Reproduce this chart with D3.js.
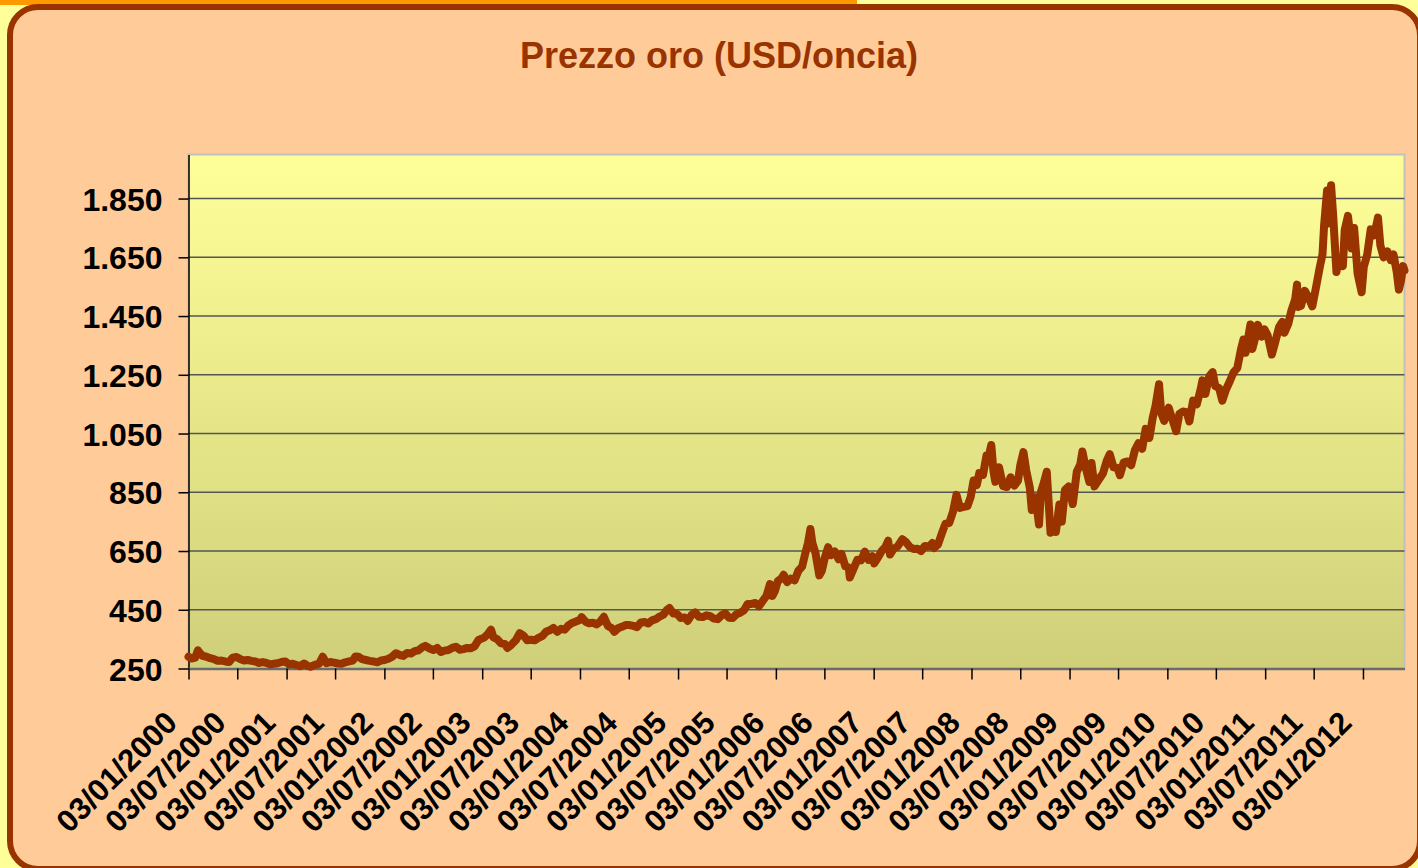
<!DOCTYPE html>
<html>
<head>
<meta charset="utf-8">
<script src="https://d3js.org/d3.v7.min.js"></script>
<style>
  body { margin: 0; background: #FFFF99; }
  svg { display: block; }
</style>
</head>
<body>
<div id="chart"></div>
<script>

var title = "Prezzo oro (USD/oncia)";

var yTicks = [250, 450, 650, 850, 1050, 1250, 1450, 1650, 1850];

var xTickLabels = ["03/01/2000", "03/07/2000", "03/01/2001", "03/07/2001", "03/01/2002", "03/07/2002",
  "03/01/2003", "03/07/2003", "03/01/2004", "03/07/2004", "03/01/2005", "03/07/2005",
  "03/01/2006", "03/07/2006", "03/01/2007", "03/07/2007", "03/01/2008", "03/07/2008",
  "03/01/2009", "03/07/2009", "03/01/2010", "03/07/2010", "03/01/2011", "03/07/2011", "03/01/2012"];

var dates = [
  "2000-01-03","2000-01-14","2000-01-28","2000-02-07","2000-02-14","2000-02-25","2000-03-10","2000-03-24","2000-04-07","2000-04-21","2000-05-05","2000-05-19","2000-06-02","2000-06-16","2000-06-30","2000-07-14","2000-07-28","2000-08-11","2000-08-25","2000-09-08","2000-09-22","2000-10-06","2000-10-20","2000-11-03","2000-11-17","2000-12-01","2000-12-15","2000-12-29",
  "2001-01-12","2001-01-26","2001-02-09","2001-02-23","2001-03-09","2001-03-23","2001-04-02","2001-04-20","2001-05-04","2001-05-18","2001-06-01","2001-06-15","2001-06-29","2001-07-13","2001-07-27","2001-08-10","2001-08-24","2001-09-07","2001-09-17","2001-09-28","2001-10-12","2001-10-26","2001-11-09","2001-11-23","2001-12-07","2001-12-21",
  "2002-01-04","2002-01-18","2002-02-01","2002-02-15","2002-03-01","2002-03-15","2002-03-29","2002-04-12","2002-04-26","2002-05-10","2002-05-24","2002-06-05","2002-06-21","2002-07-05","2002-07-19","2002-08-02","2002-08-16","2002-08-30","2002-09-13","2002-09-27","2002-10-11","2002-10-25","2002-11-08","2002-11-22","2002-12-06","2002-12-20",
  "2003-01-10","2003-01-24","2003-02-05","2003-02-14","2003-02-28","2003-03-14","2003-03-28","2003-04-07","2003-04-21","2003-05-09","2003-05-23","2003-06-06","2003-06-20","2003-07-04","2003-07-18","2003-08-01","2003-08-15","2003-08-29","2003-09-12","2003-09-26","2003-10-10","2003-10-24","2003-11-07","2003-11-21","2003-12-05","2003-12-19",
  "2004-01-02","2004-01-09","2004-01-23","2004-02-06","2004-02-20","2004-03-05","2004-03-19","2004-04-01","2004-04-16","2004-04-30","2004-05-10","2004-05-24","2004-06-07","2004-06-21","2004-07-06","2004-07-20","2004-08-03","2004-08-17","2004-08-31","2004-09-14","2004-09-28","2004-10-12","2004-10-26","2004-11-09","2004-11-23","2004-12-02","2004-12-16","2004-12-30",
  "2005-01-13","2005-01-27","2005-02-08","2005-02-22","2005-03-08","2005-03-22","2005-04-05","2005-04-19","2005-05-03","2005-05-17","2005-05-31","2005-06-14","2005-06-28","2005-07-12","2005-07-26","2005-08-09","2005-08-23","2005-09-06","2005-09-20","2005-10-04","2005-10-18","2005-11-01","2005-11-15","2005-11-29","2005-12-12","2005-12-21","2005-12-30",
  "2006-01-10","2006-01-24","2006-02-01","2006-02-14","2006-02-28","2006-03-14","2006-03-28","2006-04-11","2006-04-21","2006-05-03","2006-05-12","2006-05-19","2006-05-31","2006-06-14","2006-06-23","2006-07-05","2006-07-17","2006-07-28","2006-08-11","2006-08-25","2006-09-05","2006-09-19","2006-10-02","2006-10-06","2006-10-20","2006-11-03","2006-11-17","2006-12-01","2006-12-15","2006-12-29",
  "2007-01-05","2007-01-19","2007-02-02","2007-02-16","2007-02-26","2007-03-05","2007-03-19","2007-04-02","2007-04-20","2007-05-04","2007-05-18","2007-06-01","2007-06-15","2007-06-29","2007-07-13","2007-07-27","2007-08-10","2007-08-16","2007-08-31","2007-09-14","2007-09-28","2007-10-12","2007-10-26","2007-11-08","2007-11-21","2007-12-05","2007-12-19","2007-12-31",
  "2008-01-11","2008-01-23","2008-02-01","2008-02-15","2008-02-28","2008-03-07","2008-03-17","2008-03-25","2008-04-01","2008-04-15","2008-04-30","2008-05-14","2008-05-28","2008-06-11","2008-06-25","2008-07-03","2008-07-15","2008-07-25","2008-08-08","2008-08-15","2008-08-29","2008-09-11","2008-09-18","2008-09-30","2008-10-10","2008-10-24","2008-11-04","2008-11-13","2008-11-26","2008-12-05","2008-12-17","2008-12-31",
  "2009-01-15","2009-01-30","2009-02-12","2009-02-20","2009-03-05","2009-03-18","2009-03-26","2009-04-06","2009-04-20","2009-05-08","2009-05-22","2009-06-02","2009-06-16","2009-07-01","2009-07-10","2009-07-24","2009-08-07","2009-08-21","2009-09-04","2009-09-17","2009-10-01","2009-10-14","2009-10-28","2009-11-09","2009-11-20","2009-12-03","2009-12-11","2009-12-22",
  "2010-01-08","2010-01-21","2010-02-05","2010-02-17","2010-03-02","2010-03-16","2010-03-26","2010-04-09","2010-04-23","2010-05-07","2010-05-14","2010-05-25","2010-06-08","2010-06-21","2010-07-01","2010-07-15","2010-07-27","2010-08-10","2010-08-24","2010-09-07","2010-09-21","2010-10-05","2010-10-14","2010-10-22","2010-11-09","2010-11-16","2010-11-30","2010-12-07","2010-12-21","2010-12-31",
  "2011-01-12","2011-01-28","2011-02-10","2011-02-24","2011-03-08","2011-03-16","2011-03-30","2011-04-11","2011-04-25","2011-05-02","2011-05-05","2011-05-17","2011-05-31","2011-06-13","2011-06-28","2011-07-11","2011-07-26","2011-08-05","2011-08-11","2011-08-22","2011-08-26","2011-09-06","2011-09-14","2011-09-26","2011-10-04","2011-10-20","2011-10-27","2011-11-08","2011-11-22","2011-12-01","2011-12-14","2011-12-29",
  "2012-01-06","2012-01-19","2012-02-01","2012-02-14","2012-02-28","2012-03-08","2012-03-20","2012-04-03","2012-04-16","2012-04-26","2012-05-08","2012-05-16","2012-05-24","2012-06-01","2012-06-06"
];

var prices = [
  290,284,287,312,303,293,290,285,282,276,277,274,272,287,289,282,277,279,276,274,269,272,269,264,266,268,272,274,
  264,266,262,258,267,259,256,263,266,290,268,272,270,267,266,271,274,277,291,290,282,279,276,274,271,277,
  279,283,290,302,296,293,303,301,309,312,322,327,318,313,320,306,311,313,320,324,314,316,320,319,326,347,
  355,367,382,356,350,336,334,320,330,347,370,362,346,348,346,354,360,375,380,388,375,385,382,397,405,410,
  415,425,410,404,406,400,410,426,395,388,375,387,392,398,398,395,391,407,408,403,414,418,427,433,450,456,437,436,
  422,424,412,432,441,426,425,431,428,420,418,431,438,423,422,435,440,448,470,470,473,462,480,497,537,497,513,
  547,557,569,544,556,550,583,597,635,678,725,678,643,567,581,628,663,636,648,622,640,598,594,560,590,620,618,648,620,632,
  608,628,650,664,685,638,658,665,690,680,664,657,658,650,667,665,677,660,672,709,743,745,784,841,797,800,803,834,
  890,875,915,909,975,971,1011,922,886,935,871,868,901,873,890,941,987,926,864,790,833,740,850,885,920,712,745,715,808,750,858,870,
  810,920,945,989,930,885,950,870,890,915,958,980,935,933,908,952,955,942,994,1017,998,1066,1035,1102,1145,1218,1120,1093,
  1138,1100,1058,1117,1125,1123,1091,1162,1150,1200,1231,1185,1245,1259,1211,1205,1162,1200,1228,1258,1273,1338,1370,1325,1421,1338,1386,1420,1380,1405,
  1385,1319,1363,1413,1430,1393,1423,1469,1507,1557,1481,1485,1536,1515,1483,1544,1617,1660,1760,1877,1765,1895,1790,1600,1640,1620,1744,1791,1680,1750,1594,1531,
  1617,1660,1745,1725,1785,1690,1650,1670,1640,1660,1600,1540,1570,1620,1605
];

var width = 1418,
  height = 868;

var plot = { left: 188.5, top: 154.5, right: 1404.5, bottom: 668.5 };

var parse = d3.timeParse("%Y-%m-%d");
var parseLabel = d3.timeParse("%d/%m/%Y");
var formatIt = d3.formatLocale({ decimal: ",", thousands: ".", grouping: [3], currency: ["", "€"] }).format(",");

var data = dates.map(function(d, i) { return { date: parse(d), value: prices[i] }; });

var x = d3.scaleTime()
  .domain(d3.extent(data, function(d) { return d.date; }))
  .range([plot.left, plot.right]);

var y = d3.scaleLinear()
  .domain([250, 2000])
  .range([plot.bottom, plot.top]);

var svg = d3.select("#chart")
  .append("svg")
  .attr("width", width)
  .attr("height", height);

var defs = svg.append("defs");
var grad = defs.append("linearGradient")
  .attr("id", "plotfill")
  .attr("x1", 0).attr("y1", 0).attr("x2", 0).attr("y2", 1);
grad.append("stop").attr("offset", "0%").attr("stop-color", "#FFFF99");
grad.append("stop").attr("offset", "100%").attr("stop-color", "#CFCF7A");

// background bits outside the chart frame
svg.append("rect").attr("x", 0).attr("y", 0).attr("width", width).attr("height", height).attr("fill", "#FFFF99");
svg.append("rect").attr("x", 0).attr("y", 0).attr("width", 857).attr("height", 5).attr("fill", "#FF9900");

svg.append("rect")
  .attr("x", 10).attr("y", 7)
  .attr("width", 1410).attr("height", 862)
  .attr("rx", 28).attr("ry", 28)
  .attr("fill", "#FFCC99")
  .attr("stroke", "#993300")
  .attr("stroke-width", 6);

svg.append("text")
  .attr("x", 719)
  .attr("y", 68)
  .attr("text-anchor", "middle")
  .style("font-family", "'Liberation Sans', Arial, sans-serif")
  .style("font-weight", "bold")
  .style("font-size", "36px")
  .style("fill", "#993300")
  .text(title);

// plot area
svg.append("rect")
  .attr("x", plot.left).attr("y", plot.top)
  .attr("width", plot.right - plot.left).attr("height", plot.bottom - plot.top)
  .attr("fill", "url(#plotfill)")
  .attr("stroke", "#C0C0C0")
  .attr("stroke-width", 2);

svg.append("g")
  .selectAll("line")
  .data(yTicks.slice(1))
  .enter()
  .append("line")
  .attr("x1", plot.left).attr("x2", plot.right)
  .attr("y1", function(d) { return y(d); })
  .attr("y2", function(d) { return y(d); })
  .attr("stroke", "#555")
  .attr("stroke-width", 1.6);

// y axis
var yAxis = d3.axisLeft(y)
  .tickValues(yTicks)
  .tickSizeInner(10)
  .tickSizeOuter(0)
  .tickPadding(16)
  .tickFormat(formatIt);

var gy = svg.append("g")
  .attr("transform", "translate(" + plot.left + ",0)")
  .call(yAxis);
gy.select(".domain").attr("stroke", "#000").attr("stroke-width", 1.5);
gy.selectAll(".tick line").attr("stroke", "#000").attr("stroke-width", 1.5);
gy.selectAll(".tick text")
  .attr("dy", "0.36em")
  .style("font-family", "'Liberation Sans', Arial, sans-serif")
  .style("font-weight", "bold")
  .style("font-size", "32px")
  .style("fill", "#000");

// x axis
var xTickDates = xTickLabels.map(function(s) { return parseLabel(s); });

var xAxis = d3.axisBottom(x)
  .tickValues(xTickDates)
  .tickSizeInner(11)
  .tickSizeOuter(0)
  .tickFormat(d3.timeFormat("%d/%m/%Y"));

var gx = svg.append("g")
  .attr("transform", "translate(0," + plot.bottom + ")")
  .call(xAxis);
gx.select(".domain").attr("stroke", "#6B6B6B").attr("stroke-width", 2.5);
gx.selectAll(".tick line").attr("stroke", "#000").attr("stroke-width", 1.5);
gx.selectAll(".tick text")
  .attr("y", 0).attr("dy", 0)
  .attr("transform", "translate(-10,56) rotate(-45)")
  .attr("text-anchor", "end")
  .style("font-family", "'Liberation Sans', Arial, sans-serif")
  .style("font-weight", "bold")
  .style("font-size", "31px")
  .style("fill", "#000");

// price line
var line = d3.line()
  .x(function(d) { return x(d.date); })
  .y(function(d) { return y(d.value); });

svg.append("path")
  .datum(data)
  .attr("d", line)
  .attr("fill", "none")
  .attr("stroke", "#993300")
  .attr("stroke-width", 8)
  .attr("stroke-linejoin", "round")
  .attr("stroke-linecap", "round");

</script>
</body>
</html>
